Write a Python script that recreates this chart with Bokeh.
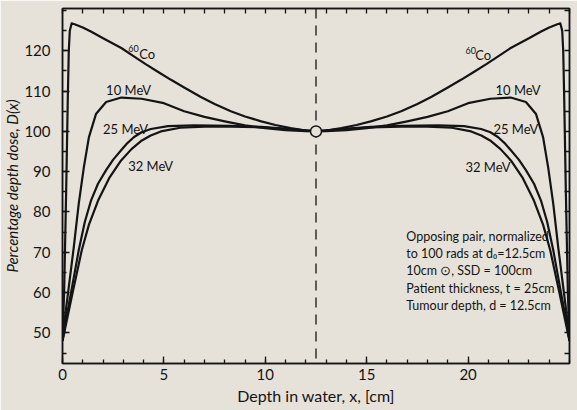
from bokeh.plotting import figure
from bokeh.models import LinearAxis, FixedTicker, Label, Span, Range1d
from bokeh.embed import file_html
from bokeh.resources import INLINE

# ---------------- data ----------------
co60_x = [0, 0.08, 0.18, 0.26, 0.31, 0.36, 0.45, 0.6, 1.0, 1.4, 2.0, 2.9, 3.5, 4.1, 4.7, 5.35,
          6.0, 6.8, 7.5, 8.3, 9.0, 9.8, 10.5, 11.25, 12.0, 12.5,
          13.0, 13.75, 14.5, 15.2, 16.0, 16.7, 17.5, 18.2, 19.0, 19.65, 20.3, 20.9, 21.5,
          22.1, 23.0, 23.6, 24.0, 24.4, 24.55, 24.64, 24.69, 24.74, 24.82, 24.92, 25.0]
co60_y = [48, 60, 85, 108, 120, 125, 126.8, 126.6, 125.8, 124.8, 123.1, 120.7, 118.7, 116.7, 114.8, 112.8,
          110.9, 108.6, 106.8, 105.0, 103.7, 102.5, 101.6, 100.8, 100.2, 100.0,
          100.2, 100.8, 101.6, 102.5, 103.7, 105.0, 106.8, 108.6, 110.9, 112.8, 114.8, 116.7, 118.7,
          120.7, 123.1, 124.8, 125.8, 126.6, 126.8, 125, 120, 108, 85, 60, 48]

mev10_x = [0, 0.15, 0.3, 0.55, 0.8, 1.05, 1.3, 1.65, 2.15, 2.9, 3.9, 5.0, 6.0, 7.0, 8.0, 9.0, 10.0, 11.0, 12.0, 12.5,
           13.0, 14.0, 15.0, 16.0, 17.0, 18.0, 19.0, 20.0, 21.1, 22.1, 22.85, 23.35, 23.7, 23.95, 24.2, 24.45, 24.7, 24.85, 25.0]
mev10_y = [48, 55, 61, 71, 82, 91, 98.5, 104.3, 107.3, 108.4, 108.1, 107.0, 105.0, 103.6, 102.5, 101.5, 100.8, 100.3, 100.05, 100,
           100.05, 100.3, 100.8, 101.5, 102.5, 103.6, 105.0, 107.0, 108.1, 108.4, 107.3, 104.3, 98.5, 91, 82, 71, 61, 55, 48]

mev25_x = [0, 0.2, 0.42, 0.8, 1.1, 1.41, 1.75, 2.15, 2.5, 2.89, 3.2, 3.53, 3.9, 4.36, 5.2, 6.5, 8.3, 9.8, 11.25, 12.5,
           13.75, 15.2, 16.7, 18.5, 19.8, 20.64, 21.1, 21.47, 21.8, 22.11, 22.5, 22.85, 23.25, 23.59, 23.9, 24.2, 24.58, 24.8, 25.0]
mev25_y = [48, 54, 60, 70.5, 77.5, 82.9, 87.0, 90.4, 93.0, 95.3, 97.1, 98.6, 99.8, 100.6, 101.3, 101.5, 101.4, 101.1, 100.6, 100,
           100.6, 101.1, 101.4, 101.5, 101.3, 100.6, 99.8, 98.6, 97.1, 95.3, 93.0, 90.4, 87.0, 82.9, 77.5, 70.5, 60, 54, 48]

mev32_x = [0, 0.25, 0.5, 0.95, 1.3, 1.76, 2.3, 2.89, 3.4, 3.87, 4.35, 4.85, 5.8, 7.0, 8.3, 9.8, 11.25, 12.5,
           13.75, 15.2, 16.7, 18.0, 19.2, 20.15, 20.65, 21.13, 21.6, 22.11, 22.7, 23.24, 23.7, 24.05, 24.5, 24.75, 25.0]
mev32_y = [48, 54, 60, 70.5, 76.8, 82.9, 88.4, 92.8, 95.6, 97.6, 99.0, 100.0, 100.9, 101.2, 101.2, 101.0, 100.5, 100,
           100.5, 101.0, 101.2, 101.2, 100.9, 100.0, 99.0, 97.6, 95.6, 92.8, 88.4, 82.9, 76.8, 70.5, 60, 54, 48]

norm_x = [12.5]
norm_y = [100]
tumour_depth = 12.5

x_ticks = [0, 5, 10, 15, 20]
x_minor = list(range(0, 26))
y_ticks = [50, 60, 70, 80, 90, 100, 110, 120]
y_minor = list(range(45, 131, 5))

curve_labels = [
    ("10 MeV", 2.15, 110.2), ("10 MeV", 21.35, 110.2),
    ("25 MeV", 2.0, 100.7), ("25 MeV", 21.25, 100.7),
    ("32 MeV", 3.24, 91.4), ("32 MeV", 19.87, 91.1),
]
co_labels = [(3.24, 120.6, 3.78, 119.1), (19.87, 120.1, 20.35, 118.9)]

notes = [
    "Opposing pair, normalized",
    "to 100 rads at d\u2080=12.5cm",
    "10cm \u2299, SSD = 100cm",
    "Patient thickness, t = 25cm",
    "Tumour depth, d = 12.5cm",
]
notes_y = [74.0, 69.7, 65.5, 61.0, 56.8]
notes_x = 16.95

# ---------------- styling ----------------
BG = "#e6e2da"
INK = "#141414"
FONT = "Lato"

p = figure(width=577, height=410, x_range=Range1d(0, 25), y_range=Range1d(42.4, 130.5),
           output_backend="svg", toolbar_location=None,
           x_axis_location=None, y_axis_location=None,
           min_border_left=61, min_border_right=8, min_border_top=8, min_border_bottom=47,
           background_fill_color=BG, border_fill_color=BG)
p.grid.visible = False
p.outline_line_color = INK
p.outline_line_width = 1.5


def style_axis(ax, labels=True):
    ax.axis_line_color = INK
    ax.axis_line_width = 1.5
    ax.major_tick_line_color = INK
    ax.minor_tick_line_color = INK
    ax.major_tick_line_width = 1.3
    ax.minor_tick_line_width = 1.3
    ax.major_tick_out = 0
    ax.minor_tick_out = 0
    ax.major_tick_in = 7
    ax.minor_tick_in = 4
    ax.major_label_text_font = FONT
    ax.major_label_text_color = INK
    if not labels:
        ax.major_label_text_font_size = "1px"
        ax.major_label_text_alpha = 0
        ax.major_label_standoff = 0


xb = LinearAxis(ticker=FixedTicker(ticks=x_ticks, minor_ticks=x_minor))
style_axis(xb)
xb.major_label_text_font_size = "15px"
xb.major_label_standoff = 5
xb.axis_label = "Depth in water, x, [cm]"
xb.axis_label_text_font = FONT
xb.axis_label_text_font_style = "normal"
xb.axis_label_text_font_size = "16px"
xb.axis_label_standoff = 3
xb.axis_label_text_color = INK
p.add_layout(xb, "below")

yl = LinearAxis(ticker=FixedTicker(ticks=y_ticks, minor_ticks=y_minor))
style_axis(yl)
yl.major_label_text_font_size = "15px"
yl.major_label_standoff = 12
yl.axis_label = "Percentage depth dose, D(x)"
yl.axis_label_text_font = FONT
yl.axis_label_text_font_style = "italic"
yl.axis_label_text_font_size = "15px"
yl.axis_label_standoff = 0
yl.axis_label_text_color = INK
p.add_layout(yl, "left")

xt = LinearAxis(ticker=FixedTicker(ticks=x_minor, minor_ticks=[]))
style_axis(xt, labels=False)
xt.major_tick_in = 5
p.add_layout(xt, "above")

yr = LinearAxis(ticker=FixedTicker(ticks=y_minor, minor_ticks=[]))
style_axis(yr, labels=False)
yr.major_tick_in = 5
p.add_layout(yr, "right")

p.add_layout(Span(location=tumour_depth, dimension="height", line_color=INK,
                  line_width=1.3, line_dash="10 7", level="underlay"))

for xs, ys in [(co60_x, co60_y), (mev10_x, mev10_y), (mev25_x, mev25_y), (mev32_x, mev32_y)]:
    p.line(xs, ys, line_color=INK, line_width=2.2, line_join="round")

p.scatter(norm_x, norm_y, size=11, fill_color=BG, line_color=INK, line_width=1.5)

for t, x, y in curve_labels:
    p.add_layout(Label(x=x, y=y, text=t, text_font=FONT, text_font_size="13px",
                       text_color=INK, text_baseline="middle", text_align="left"))
for x1, y1, x2, y2 in co_labels:
    p.add_layout(Label(x=x1, y=y1, text="60", text_font=FONT, text_font_size="9px",
                       text_color=INK, text_baseline="middle", text_align="left"))
    p.add_layout(Label(x=x2, y=y2, text="Co", text_font=FONT, text_font_size="13px",
                       text_color=INK, text_baseline="middle", text_align="left"))

for t, y in zip(notes, notes_y):
    p.add_layout(Label(x=notes_x, y=y, text=t, text_font=FONT, text_font_size="12.5px",
                       text_color=INK, text_baseline="middle", text_align="left"))

open("out.html", "w").write(file_html(p, INLINE))
